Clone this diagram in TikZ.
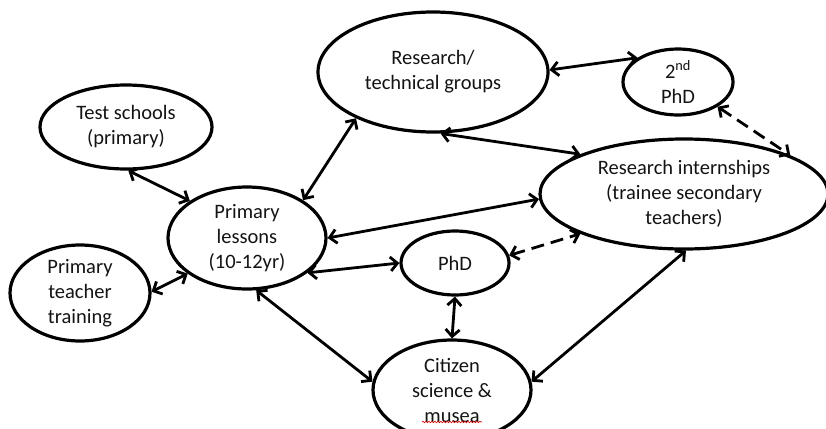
\documentclass[tikz,border=0pt]{standalone}
\usepackage{fontspec}
\setmainfont{Carlito}
\usetikzlibrary{shapes.geometric,arrows.meta,decorations.pathmorphing}

\tikzset{
  bubble/.style={draw=black, line width=3.2pt, ellipse, inner sep=0pt,
    align=center, font=\fontsize{20.5pt}{25pt}\selectfont, text=black!92},
  link/.style={line width=2.8pt, draw=black, {Straight Barb[length=7pt,width=14pt]}-{Straight Barb[length=7pt,width=14pt]}},
  dashlink/.style={link, dash pattern=on 13pt off 7pt},
}

\begin{document}
\begin{tikzpicture}[x=1pt,y=-1pt]
  \fill[white] (0,0) rectangle (826,428);
  \useasboundingbox (0,0) rectangle (826,428);

  % activities
  \node[bubble, minimum width=230pt, minimum height=120pt] (rg) at (433,72) {Research/\\technical groups};
  \node[bubble, minimum width=110pt, minimum height=66pt]  (p2) at (678,82) {2\textsuperscript{nd}\\PhD};
  \node[bubble, minimum width=288pt, minimum height=110pt] (ri) at (684,194) {Research internships\\(trainee secondary\\teachers)};
  \node[bubble, minimum width=172pt, minimum height=84pt]  (ts) at (126,127) {Test schools\\(primary)};
  \node[bubble, minimum width=158pt, minimum height=102pt] (pl) at (247,238) {Primary\\lessons\\(10-12yr)};
  \node[bubble, minimum width=140pt, minimum height=96pt]  (pt) at (80,293) {Primary\\teacher\\training};
  \node[bubble, minimum width=108pt, minimum height=64pt]  (phd) at (455,263) {PhD};
  \node[bubble, minimum width=158pt, minimum height=100pt] (cs) at (452,390) {Citizen\\science \&\\musea};

  % spell-check mark under "musea"
  \draw[red!85!black, line width=0.6pt, decorate,
        decoration={snake, amplitude=0.8pt, segment length=3pt}]
    ([xshift=-30pt,yshift=-32pt]cs.center) -- ([xshift=30pt,yshift=-32pt]cs.center);

  % links
  \draw[link] (rg.1) -- (p2.149);
  \draw[link] (rg.277) -- (ri.159);
  \draw[dashlink] (p2.328) -- (ri.20);
  \draw[link] (ts.273) -- (pl.147);
  \draw[link] (pt.1) -- (pl.211);
  \draw[link] (pl.34) -- (rg.211);
  \draw[link] (pl.0) -- (ri.182);
  \draw[link] (pl.330) -- (phd.180);
  \draw[dashlink] (phd.8) -- (ri.201);
  \draw[link] (phd.270) -- (cs.90);
  \draw[link] (pl.280) -- (cs.174);
  \draw[link] (cs.6) -- (ri.272);
\end{tikzpicture}
\end{document}
